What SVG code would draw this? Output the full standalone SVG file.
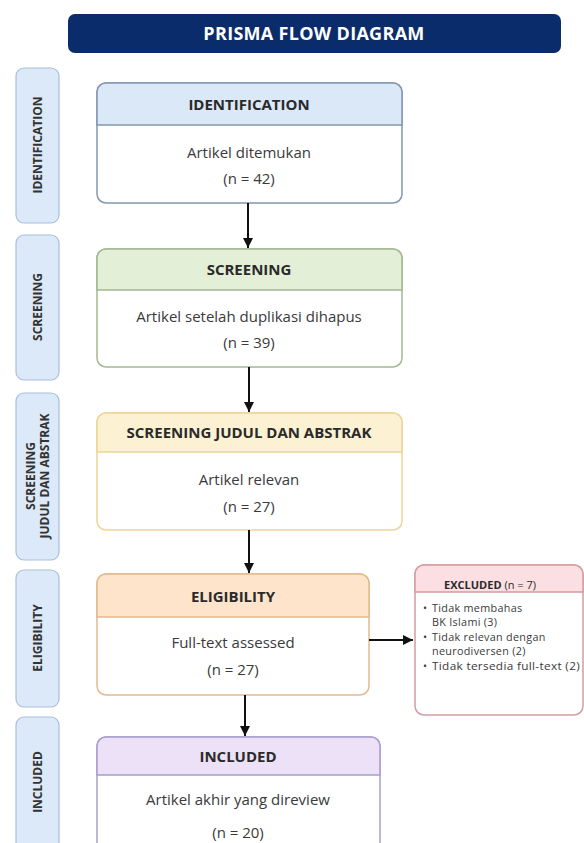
<svg xmlns="http://www.w3.org/2000/svg" width="584" height="843" viewBox="0 0 584 843">
<defs>
<style>
.side{fill:#dce9f8;stroke:#a9bfdc;stroke-width:1.2}
.sidet{font-family:"Open Sans","Liberation Sans",sans-serif;font-weight:bold;font-size:12px;fill:#333;text-anchor:middle}
.hdr{font-family:"Open Sans","Liberation Sans",sans-serif;font-weight:bold;font-size:15px;fill:#2a2a2a;text-anchor:middle}
.body{font-family:"Open Sans","Liberation Sans",sans-serif;font-size:15px;fill:#3a3a3a;text-anchor:middle}
.small{font-family:"Open Sans","Liberation Sans",sans-serif;font-size:10.8px;fill:#3a3a3a;letter-spacing:0.3px}
.conn{stroke:#111;stroke-width:2;fill:none}
</style>
<marker id="ah" markerWidth="10" markerHeight="10" viewBox="0 0 10 10" refX="10" refY="5" orient="auto" markerUnits="userSpaceOnUse">
<path d="M0,0 L10,5 L0,10 z" fill="#111"/>
</marker>
</defs>
<rect width="584" height="843" fill="#ffffff"/>

<g id="title">
<rect x="68" y="14" width="493" height="39" rx="7" fill="#0b2c6a"/>
<text x="314" y="40" font-family="Open Sans, Liberation Sans, sans-serif" font-weight="bold" font-size="18" fill="#ffffff" text-anchor="middle" letter-spacing="0.3">PRISMA FLOW DIAGRAM</text>
</g>

<g id="side-identification">
<rect class="side" x="16" y="68" width="43" height="155" rx="8"/>
<text class="sidet" transform="translate(42,145) rotate(-90)">IDENTIFICATION</text>
</g>
<g id="side-screening">
<rect class="side" x="16" y="235" width="43" height="145" rx="8"/>
<text class="sidet" transform="translate(42,307) rotate(-90)">SCREENING</text>
</g>
<g id="side-screening-judul">
<rect class="side" x="16" y="393" width="43" height="167" rx="8"/>
<text class="sidet" transform="translate(35,476) rotate(-90)">SCREENING</text>
<text class="sidet" transform="translate(49,476) rotate(-90)">JUDUL DAN ABSTRAK</text>
</g>
<g id="side-eligibility">
<rect class="side" x="16" y="570" width="43" height="137" rx="8"/>
<text class="sidet" transform="translate(42,638) rotate(-90)">ELIGIBILITY</text>
</g>
<g id="side-included">
<rect class="side" x="16" y="717" width="43" height="140" rx="8"/>
<text class="sidet" transform="translate(42,782) rotate(-90)">INCLUDED</text>
</g>

<g id="identification">
<rect x="97" y="83" width="305" height="120" rx="9" fill="#ffffff" stroke="#8497b0" stroke-width="1.5"/>
<path d="M97,125 V92 a9,9 0 0 1 9,-9 H393 a9,9 0 0 1 9,9 V125 z" fill="#dbe8f7" stroke="#8497b0" stroke-width="1.5"/>
<text class="hdr" x="249" y="110">IDENTIFICATION</text>
<text class="body" x="249" y="158">Artikel ditemukan</text>
<text class="body" x="249" y="184">(n = 42)</text>
</g>

<g id="screening">
<rect x="97" y="249" width="305" height="118" rx="9" fill="#ffffff" stroke="#a3b88f" stroke-width="1.5"/>
<path d="M97,290 V258 a9,9 0 0 1 9,-9 H393 a9,9 0 0 1 9,9 V290 z" fill="#e4efd7" stroke="#a3b88f" stroke-width="1.5"/>
<text class="hdr" x="249" y="275">SCREENING</text>
<text class="body" x="249" y="322">Artikel setelah duplikasi dihapus</text>
<text class="body" x="249" y="348">(n = 39)</text>
</g>

<g id="screening-judul">
<rect x="97" y="413" width="305" height="117" rx="9" fill="#ffffff" stroke="#ecd597" stroke-width="1.5"/>
<path d="M97,452 V422 a9,9 0 0 1 9,-9 H393 a9,9 0 0 1 9,9 V452 z" fill="#fdf1d3" stroke="#ecd597" stroke-width="1.5"/>
<text class="hdr" x="249" y="438">SCREENING JUDUL DAN ABSTRAK</text>
<text class="body" x="249" y="485">Artikel relevan</text>
<text class="body" x="249" y="512">(n = 27)</text>
</g>

<g id="eligibility">
<rect x="97" y="574" width="272" height="121" rx="9" fill="#ffffff" stroke="#e3b98f" stroke-width="1.5"/>
<path d="M97,617 V583 a9,9 0 0 1 9,-9 H360 a9,9 0 0 1 9,9 V617 z" fill="#fde4ca" stroke="#e3b98f" stroke-width="1.5"/>
<text class="hdr" x="233" y="602">ELIGIBILITY</text>
<text class="body" x="233" y="648">Full-text assessed</text>
<text class="body" x="233" y="675">(n = 27)</text>
</g>

<g id="included">
<rect x="97" y="737" width="283" height="120" rx="9" fill="#ffffff" stroke="#ab9dcc" stroke-width="1.5"/>
<path d="M97,775 V746 a9,9 0 0 1 9,-9 H371 a9,9 0 0 1 9,9 V775 z" fill="#ece1f6" stroke="#ab9dcc" stroke-width="1.5"/>
<text class="hdr" x="238" y="762">INCLUDED</text>
<text class="body" x="238" y="805">Artikel akhir yang direview</text>
<text class="body" x="238" y="838">(n = 20)</text>
</g>

<g id="excluded">
<rect x="415" y="565" width="168" height="150" rx="9" fill="#ffffff" stroke="#d59ca1" stroke-width="1.5"/>
<path d="M415,592 V574 a9,9 0 0 1 9,-9 H574 a9,9 0 0 1 9,9 V592 z" fill="#fbdfe2" stroke="#d59ca1" stroke-width="1.5"/>
<text x="490" y="589" font-family="Open Sans, Liberation Sans, sans-serif" font-size="11" fill="#2a2a2a" text-anchor="middle"><tspan font-weight="bold">EXCLUDED</tspan> (n = 7)</text>
<text class="small" x="423" y="612">•</text>
<text class="small" x="432" y="612">Tidak membahas</text>
<text class="small" x="432" y="626">BK Islami (3)</text>
<text class="small" x="423" y="641">•</text>
<text class="small" x="432" y="641">Tidak relevan dengan</text>
<text class="small" x="432" y="655">neurodiversen (2)</text>
<text class="small" x="423" y="670">•</text>
<text class="small" x="432" y="670" textLength="148" lengthAdjust="spacingAndGlyphs">Tidak tersedia full-text (2)</text>
</g>

<g id="connectors">
<line class="conn" x1="248" y1="203" x2="248" y2="248" marker-end="url(#ah)"/>
<line class="conn" x1="249" y1="367" x2="249" y2="412" marker-end="url(#ah)"/>
<line class="conn" x1="249" y1="530" x2="249" y2="573" marker-end="url(#ah)"/>
<line class="conn" x1="245" y1="695" x2="245" y2="736" marker-end="url(#ah)"/>
<line class="conn" x1="369" y1="640" x2="413" y2="640" marker-end="url(#ah)"/>
</g>
</svg>
